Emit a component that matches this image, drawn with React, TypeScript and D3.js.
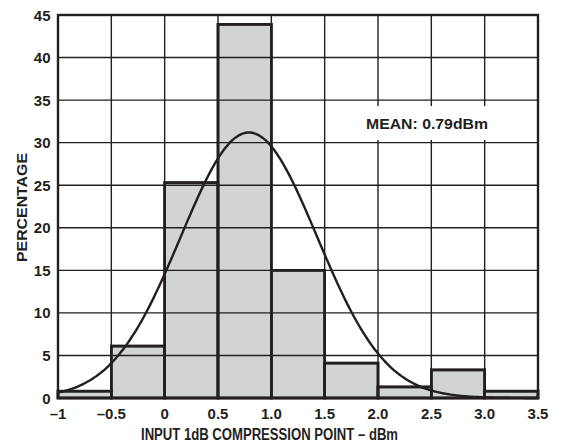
import React from "react";
import * as d3 from "d3";

const binStarts = [-1, -0.5, 0, 0.5, 1.0, 1.5, 2.0, 2.5, 3.0];
const binWidth = 0.5;
const percentages = [0.8, 6.1, 25.3, 43.9, 15.0, 4.1, 1.3, 3.3, 0.8];
const xTicks = [-1, -0.5, 0, 0.5, 1.0, 1.5, 2.0, 2.5, 3.0, 3.5];
const xTickLabels = ["–1", "–0.5", "0", "0.5", "1.0", "1.5", "2.0", "2.5", "3.0", "3.5"];
const yTicks = [0, 5, 10, 15, 20, 25, 30, 35, 40, 45];
const fitMean = 0.79;
const fitSigma = 0.64;
const fitPeak = 31.2;
const meanLabel = "MEAN: 0.79dBm";
const xTitle = "INPUT 1dB COMPRESSION POINT – dBm";
const yTitle = "PERCENTAGE";

const W = 561, H = 444;
const left = 58, right = 538, top = 15, bottom = 398;

export default function App() {
  const x = d3.scaleLinear().domain([-1, 3.5]).range([left, right]);
  const y = d3.scaleLinear().domain([0, 45]).range([bottom, top]);
  const curveX = d3.range(-1, 3.5001, 0.02);
  const line = d3
    .line<number>()
    .x((d) => x(d))
    .y((d) => y(fitPeak * Math.exp(-((d - fitMean) ** 2) / (2 * fitSigma * fitSigma))))
    .curve(d3.curveBasis);
  const font = "'Liberation Sans', Arial, Helvetica, sans-serif";
  const ink = "#231f20";
  return (
    <svg width={W} height={H} style={{ position: "absolute", left: 0, top: 0, display: "block" }} fontFamily={font}>
      <rect x={0} y={0} width={W} height={H} fill="#fff" />
      {xTicks.map((t) => (
        <line key={"vx" + t} x1={x(t)} x2={x(t)} y1={top} y2={bottom} stroke={ink} strokeWidth={1.4} />
      ))}
      {binStarts.map((b, i) => (
        <rect
          key={"bar" + i}
          x={x(b)}
          y={y(percentages[i])}
          width={x(b + binWidth) - x(b)}
          height={y(0) - y(percentages[i])}
          fill="#d1d3d4"
          stroke={ink}
          strokeWidth={2.6}
        />
      ))}
      <rect x={360} y={106} width={134} height={34} fill="#fff" />
      {yTicks.map((t) => (
        <line key={"hy" + t} x1={left} x2={right} y1={y(t)} y2={y(t)} stroke={ink} strokeWidth={1.4} />
      ))}
      {binStarts.map((b, i) => (
        <rect
          key={"barO" + i}
          x={x(b)}
          y={y(percentages[i])}
          width={x(b + binWidth) - x(b)}
          height={y(0) - y(percentages[i])}
          fill="none"
          stroke={ink}
          strokeWidth={2.6}
        />
      ))}
      <path d={line(curveX) || ""} fill="none" stroke={ink} strokeWidth={2.4} />
      <text x={427} y={128.5} textAnchor="middle" fontSize={15} fontWeight="bold" fill={ink} textLength={122} lengthAdjust="spacingAndGlyphs">
        {meanLabel}
      </text>
      <rect x={left} y={top} width={right - left} height={bottom - top} fill="none" stroke={ink} strokeWidth={2.4} />
      {yTicks.map((t) => (
        <text key={"yl" + t} x={50.5} y={y(t) + 5.5} textAnchor="end" fontSize={15} fontWeight="bold" fill={ink}>
          {t}
        </text>
      ))}
      {xTicks.map((t, i) => (
        <text key={"xl" + t} x={x(t)} y={419} textAnchor="middle" fontSize={15} fontWeight="bold" fill={ink}>
          {xTickLabels[i]}
        </text>
      ))}
      <text x={269.5} y={440} textAnchor="middle" fontSize={16} fontWeight="bold" fill={ink} textLength={257} lengthAdjust="spacingAndGlyphs">
        {xTitle}
      </text>
      <text
        transform={`translate(26.5, 207.5) rotate(-90)`}
        textAnchor="middle"
        fontSize={15.5}
        fontWeight="bold"
        fill={ink}
        textLength={109}
        lengthAdjust="spacingAndGlyphs"
      >
        {yTitle}
      </text>
    </svg>
  );
}
